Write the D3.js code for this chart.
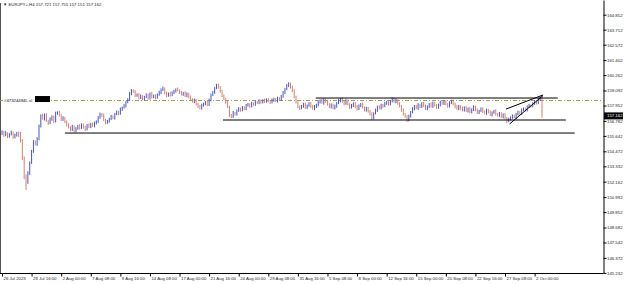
<!DOCTYPE html>
<html>
<head>
<meta charset="utf-8">
<script src="https://cdn.jsdelivr.net/npm/d3@7.9.0/dist/d3.min.js"></script>
<style>
  body { margin: 0; background: #fff; }
  svg { display: block; }
  text { font-family: "Liberation Sans", Arial, sans-serif; }
</style>
</head>
<body>
<svg id="chart" width="625" height="284"></svg>
<script>
// EURJPY+ H4 bars
const title = 'EURJPY+,H4  157.721 157.755 157.151 157.162';
const firstOpen = 155.80;

const closes = [
  155.95, 155.70, 155.85, 155.60, 155.75, 155.90, 155.55, 155.70, 155.85, 155.65,
  155.30, 154.00, 152.60, 152.10,
  152.80, 153.60, 154.50, 155.20, 155.00, 155.40,
  156.40, 157.20,
  156.95, 157.25, 156.80, 156.60, 156.90, 157.10, 156.75,
  157.35, 157.45, 157.20,
  156.90, 157.00, 156.70, 156.50,
  156.30, 156.10, 156.35, 156.05, 156.20,
  156.40, 156.25, 156.50, 156.30, 156.15, 156.45, 156.35, 156.55, 156.40, 156.60, 156.75,
  157.05, 157.30, 157.20,
  156.85, 156.65, 156.75, 156.95,
  157.10, 157.00, 157.30, 157.45, 157.35, 157.65, 157.80, 157.95, 158.20, 158.40,
  158.85, 159.10, 159.00,
  158.70, 158.80, 158.55, 158.65, 158.45, 158.60, 158.75, 158.50, 158.85, 158.60, 158.70, 158.55, 158.80, 158.95, 159.15,
  159.25, 158.90,
  158.70, 158.85, 158.75, 158.95, 159.05, 159.20, 159.10, 158.95, 158.80, 158.90, 158.70, 158.85, 158.60,
  158.40, 158.25, 158.35, 158.05, 157.90, 157.75, 157.95,
  158.10, 158.20, 158.00,
  158.40, 158.75, 158.95, 159.30, 159.50, 159.35,
  159.00, 158.70, 158.45, 158.20, 157.85,
  157.20, 157.10, 157.40,
  157.30, 157.55, 157.70, 157.60, 157.80, 157.70, 157.95, 158.05, 157.90, 158.10, 158.05, 158.20, 158.15,
  158.30, 158.20, 158.35, 158.25, 158.40, 158.30, 158.20, 158.35, 158.45, 158.30, 158.50, 158.40, 158.65,
  158.95, 159.20, 159.45, 159.60,
  159.35, 159.05, 158.60, 158.20, 157.85,
  157.75, 157.90,
  158.05, 157.80, 157.95, 158.10, 157.90, 157.70, 157.85, 158.00,
  158.20, 158.35, 158.15, 158.40, 158.25, 158.05, 157.85, 158.00, 157.75, 157.90, 158.15, 158.30, 158.45, 158.25, 158.10, 158.30, 158.05, 157.80, 157.95,
  158.10, 157.85, 157.70, 157.95, 158.05, 157.80, 157.60, 157.75, 157.50, 157.30,
  157.00, 157.35,
  157.60, 157.85, 157.75, 158.00, 157.90, 158.10, 158.20, 158.05, 158.30, 158.45, 158.25, 158.35, 158.10, 157.90,
  157.60, 157.30, 157.10, 156.85, 157.15,
  157.45, 157.70, 157.90, 157.75, 158.00, 157.85, 158.10, 157.95, 157.70, 157.85, 158.05, 157.90, 158.15, 157.95, 157.80, 158.00, 158.20,
  158.10, 158.25, 158.05, 157.90, 158.15, 158.30, 158.10, 157.85, 157.70, 157.90, 157.75,
  157.60, 157.80, 157.55, 157.70, 157.45, 157.65, 157.85, 157.60, 157.40, 157.55, 157.70,
  157.50, 157.35, 157.60, 157.45, 157.25, 157.40, 157.55, 157.30, 157.20, 157.35, 157.10, 157.25, 157.00,
  156.80, 156.90, 157.05,
  157.15, 157.05, 157.30, 157.45, 157.35, 157.60, 157.70, 157.60, 157.85, 157.95, 157.90, 158.10, 158.25, 158.15, 158.40, 158.55,
  157.16
];

// wick lengths above / below the body, in 0.01 yen
const wickHi = [
  12,8,15,6,10,14,7,11,9,13,30,10,8,12,15,10,8,12,9,14,
  10,8,14,9,12,7,15,10,8,13,6,11,9,14,8,12,10,7,13,9,
  11,8,14,10,7,12,9,15,8,11,13,7,10,12,8,14,9,11,7,13,
  10,8,12,9,14,7,11,9,10,13,10,8,12,7,11,14,9,8,12,10,
  9,13,8,11,7,12,10,14,8,11,9,13,7,10,6,12,8,11,9,14,
  10,7,12,9,13,8,11,10,14,7,9,12,8,11,10,5,9,12,8,13,
  10,9,12,8,11,14,7,10,13,9,11,8,12,10,7,13,9,11,8,12,
  10,7,13,9,11,8,14,10,7,12,9,11,10,8,13,12,9,11,14,10,
  8,12,9,11,13,7,10,12,8,14,9,11,7,12,10,8,13,9,11,10,
  12,8,14,9,11,7,13,10,8,12,9,11,13,8,10,12,7,11,9,10,
  14,8,11,9,12,10,7,13,9,11,8,12,10,14,7,11,9,13,8,12,
  10,8,12,9,11,13,7,10,12,8,11,9,14,10,7,12,9,11,8,13,
  10,8,12,9,11,7,13,10,8,12,9,11,10,14,8,11,9,12,7,10,
  12,9,11,8,13,10,7,12,9,11,8,10,13,9,11,8,12,10,9,11,
  8,12,10,9,11,13,8,10,12,9,11,10,12
];
const wickLo = [
  10,13,8,12,9,7,14,10,11,8,15,20,25,57,10,12,9,14,8,11,
  9,12,8,14,10,13,7,11,12,9,10,8,13,11,9,14,10,12,8,15,
  12,9,13,8,11,14,9,10,12,8,11,9,13,10,12,8,14,9,11,10,
  9,12,8,13,10,11,9,14,8,10,12,9,11,8,13,10,9,12,8,11,
  10,12,9,13,8,11,14,9,10,12,8,11,9,13,10,8,12,9,11,10,
  13,9,11,8,12,10,14,9,11,8,12,10,9,13,8,11,10,12,9,11,
  8,12,10,12,11,9,13,10,8,12,9,11,10,8,13,9,11,12,8,10,
  11,9,12,8,10,13,9,11,8,12,10,9,11,13,8,10,12,9,11,10,
  9,13,8,11,10,12,9,14,8,11,10,12,9,8,13,10,11,9,12,8,
  10,12,9,11,8,13,10,9,12,8,11,10,13,9,12,8,10,11,9,12,
  15,10,8,12,9,11,13,8,10,12,9,11,8,13,10,9,12,11,8,15,
  10,12,9,11,8,13,10,9,12,8,11,10,9,13,8,11,10,12,9,11,
  8,12,10,9,13,11,8,10,12,9,11,8,13,10,9,12,8,11,10,9,
  12,8,11,10,9,13,8,12,10,11,9,13,10,20,12,9,11,8,12,10,
  9,11,8,12,10,9,11,8,10,12,9,11,14
];

const priceTicks = [164.852, 163.712, 162.572, 161.402, 160.262, 159.092, 157.952, 156.782,
  155.642, 154.472, 153.332, 152.162, 150.992, 149.852, 148.682, 147.542, 146.372, 145.232];
const timeLabels = ['26 Jul 2023', '28 Jul 16:00', '2 Aug 00:00', '7 Aug 08:00', '9 Aug 16:00',
  '14 Aug 08:00', '17 Aug 00:00', '21 Aug 16:00', '24 Aug 00:00', '29 Aug 08:00', '31 Aug 16:00',
  '5 Sep 08:00', '8 Sep 00:00', '12 Sep 16:00', '15 Sep 00:00', '20 Sep 08:00', '22 Sep 16:00',
  '27 Sep 08:00', '2 Oct 00:00'];
const barsPerLabel = 16;

const lastPrice = 157.162;
const orderLevel = 158.33;
const orderName = '#47324494L.sl';

// drawn objects: [bar from, price from, bar to, price to]
const trendLines = [
  [34, 155.86, 309.7, 155.86],
  [119.5, 156.85, 304.9, 156.85],
  [169.7, 158.52, 300.5, 158.52],
  [272.5, 157.68, 292.5, 158.75],
  [274.5, 156.55, 292.5, 158.70]
];

const bars = closes.map((c, i) => {
  const o = i === 0 ? firstOpen : closes[i - 1];
  return {
    i, open: o, close: c,
    high: Math.max(o, c) + wickHi[i] / 100,
    low: Math.min(o, c) - wickLo[i] / 100
  };
});

const width = 625, height = 284;
const plot = { left: 0, right: 603.5, top: 0, bottom: 273.5 };

const svg = d3.select('#chart');

const x = d3.scaleLinear().domain([0, 292]).range([2, 542]);
const y = d3.scaleLinear().domain([145.224, 165.969]).range([273, 0]);

// frame
svg.append('line')
  .attr('x1', 0.5).attr('x2', 0.5).attr('y1', 3).attr('y2', plot.bottom)
  .attr('stroke', '#555').attr('stroke-width', 1);
svg.append('line')
  .attr('x1', 0).attr('x2', plot.right).attr('y1', plot.bottom).attr('y2', plot.bottom)
  .attr('stroke', '#000').attr('stroke-width', 1);

// order level
svg.append('line')
  .attr('x1', 0).attr('x2', plot.right)
  .attr('y1', y(orderLevel)).attr('y2', y(orderLevel))
  .attr('stroke', '#a39e4c').attr('stroke-width', 1)
  .attr('stroke-dasharray', '4,2,1,2');
svg.append('rect')
  .attr('x', 3).attr('y', y(orderLevel) - 4).attr('width', 32).attr('height', 6)
  .attr('fill', '#fff');
svg.append('text')
  .attr('x', 4).attr('y', y(orderLevel) + 1)
  .attr('font-size', 4.3).attr('fill', '#000')
  .text(orderName);
svg.append('rect')
  .attr('x', 35).attr('y', y(orderLevel) - 4.5).attr('width', 15).attr('height', 6)
  .attr('fill', '#000');

// candles
svg.append('g')
  .selectAll('line')
  .data(bars)
  .join('line')
  .attr('x1', (d) => x(d.i)).attr('x2', (d) => x(d.i))
  .attr('y1', (d) => y(d.high)).attr('y2', (d) => y(d.low))
  .attr('stroke', (d) => (d.close >= d.open ? '#4456c8' : '#d9806c'))
  .attr('stroke-width', 1);

// trend lines
svg.append('g')
  .selectAll('line')
  .data(trendLines)
  .join('line')
  .attr('x1', (d) => x(d[0])).attr('y1', (d) => y(d[1]))
  .attr('x2', (d) => x(d[2])).attr('y2', (d) => y(d[3]))
  .attr('stroke', '#000').attr('stroke-width', 1);

// price axis
const yAxis = svg.append('g')
  .attr('transform', `translate(${plot.right}, 0)`)
  .call(d3.axisRight(y).tickValues(priceTicks).tickSize(3).tickSizeOuter(0)
    .tickFormat(d3.format('.3f')));
yAxis.select('.domain').attr('stroke', '#000');
yAxis.selectAll('text')
  .attr('x', 3.5).attr('font-size', 4.3).attr('fill', '#222')
  .attr('font-family', '"Liberation Sans", Arial, sans-serif');

// last price marker
svg.append('rect')
  .attr('x', plot.right + 0.5).attr('y', y(lastPrice) - 3.5)
  .attr('width', 19).attr('height', 7).attr('fill', '#000');
svg.append('text')
  .attr('x', plot.right + 3.5).attr('y', y(lastPrice) + 1.6)
  .attr('font-size', 4.3).attr('fill', '#fff')
  .text(lastPrice.toFixed(3));

// time axis
const xAxis = svg.append('g')
  .attr('transform', `translate(0, ${plot.bottom})`)
  .call(d3.axisBottom(x)
    .tickValues(timeLabels.map((_, k) => k * barsPerLabel))
    .tickSize(3)
    .tickFormat((d) => timeLabels[d / barsPerLabel]));
xAxis.select('.domain').remove();
xAxis.selectAll('text')
  .attr('text-anchor', 'start').attr('x', 1).attr('y', 3).attr('dy', '0.75em')
  .attr('font-size', 4.3).attr('fill', '#222')
  .attr('font-family', '"Liberation Sans", Arial, sans-serif');

// header
svg.append('text')
  .attr('x', 3).attr('y', 6)
  .attr('font-size', 4.3).attr('fill', '#222')
  .text('\u25BC ' + title);
</script>
</body>
</html>
